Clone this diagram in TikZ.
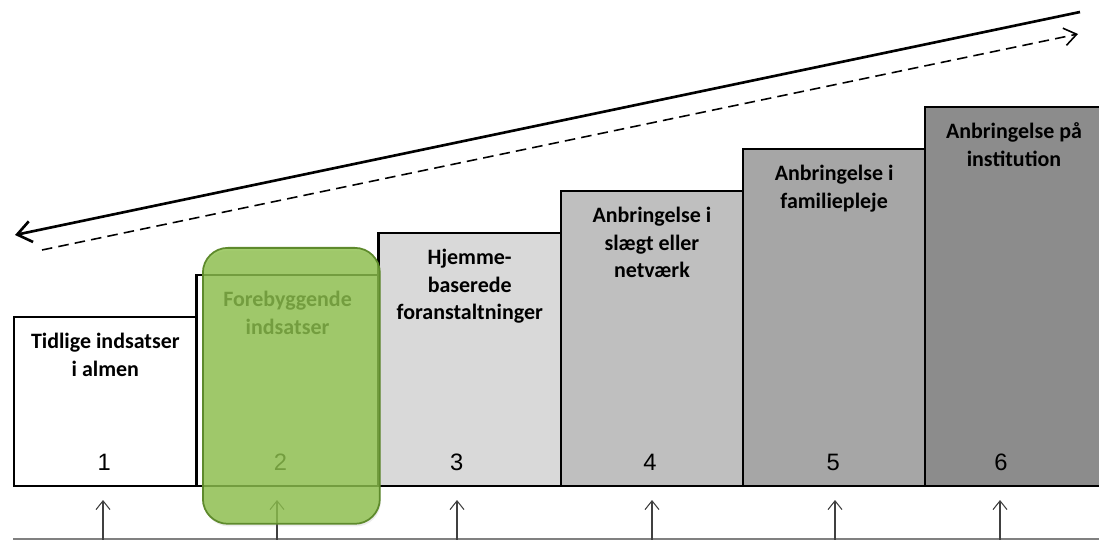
\documentclass[tikz,border=0pt]{standalone}
\usepackage{fontspec}
\setmainfont{Carlito}
\newfontfamily\numfont{Liberation Sans}
\usepackage{xcolor}
\usetikzlibrary{positioning, arrows.meta, shadows}

\definecolor{focusgreen}{RGB}{140,192,74}
\definecolor{focusline}{RGB}{94,138,44}
\definecolor{axisgray}{RGB}{128,128,128}

\tikzset{
    stepbox/.style={draw=black, line width=1.4pt, anchor=south west, inner sep=0pt},
    steptext/.style={font=\bfseries\fontsize{12.5}{15.8}\selectfont, align=center, anchor=north, inner sep=0pt},
    stepnum/.style={font=\numfont\fontsize{13.5}{16}\selectfont, inner sep=0pt},
    uparrow/.style={draw=black!75, line width=0.6pt, -{Straight Barb[length=5pt, width=8pt]}},
    focusbox/.style={draw=focusline, line width=1pt, fill=focusgreen, fill opacity=0.8,
        rounded corners=0.5cm, anchor=north west,
        drop shadow={opacity=0.15, shadow xshift=0.6pt, shadow yshift=-1.5pt}},
}

\begin{document}
\begin{tikzpicture}[x=0.02cm, y=-0.02cm]
        \clip (0,0) rectangle (1099,540);

        % the six steps
        \foreach \i/\l/\w/\h/\c in {1/13/182.2/169/white, 2/195.2/182.2/211/white, 3/377.4/182.2/253/black!15,
                                    4/559.6/182.2/295/black!25, 5/741.8/182.2/337/black!35, 6/924/177.5/379/black!45} {
            \node[stepbox, fill=\c, minimum width=\w*0.02cm, minimum height=\h*0.02cm] (s\i) at (\l, 487) {};
        }

        \foreach \i/\t in {1/{Tidlige indsatser\\i almen}, 2/{Forebyggende\\indsatser},
                           3/{Hjemme-\\baserede\\foranstaltninger}, 4/{Anbringelse i\\slægt eller\\netværk},
                           5/{Anbringelse i\\familiepleje}, 6/{Anbringelse på\\institution}} {
            \node[steptext] (t\i) at ([yshift=-0.34cm]s\i.north) {\t};
        }

        \foreach \i/\o in {1/-1, 2/-7, 3/-13, 4/-2, 5/-1, 6/-13} {
            \node[stepnum] (n\i) at ([xshift=\o*0.02cm, yshift=0.5cm]s\i.south) {\i};
        }

        % arrows from the base line
        \coordinate (base0) at (13, 539);
        \coordinate (base1) at (1099, 539);
        \draw[axisgray, line width=0.8pt] (base0) -- (base1);
        \foreach \i/\x in {1/103, 2/277, 3/457, 4/652, 5/835, 6/1000} {
            \coordinate (b\i) at (\x, 540);
            \coordinate (a\i) at (\x, 500);
            \draw[uparrow] (b\i) -- (a\i);
        }

        % trend arrows
        \coordinate (moreR) at (1080, 12);
        \coordinate (moreL) at (15, 235);
        \coordinate (lessL) at (42, 250);
        \coordinate (lessR) at (1078, 34);
        \draw[line width=1.5pt, -{Straight Barb[length=8pt, width=12pt]}] (moreR) -- (moreL);
        \draw[line width=0.9pt, dash pattern=on 6pt off 3.5pt, -{Straight Barb[length=7pt, width=10pt]}] (lessL) -- (lessR);

        \node[focusbox, minimum width=3.54cm, minimum height=5.52cm] (focus) at (202, 247) {};
    \end{tikzpicture}
\end{document}
